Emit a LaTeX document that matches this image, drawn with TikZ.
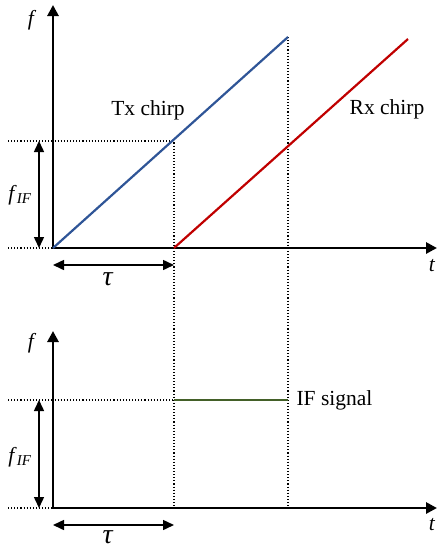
\documentclass[tikz,border=0pt]{standalone}
\usepackage{fontspec}
\setmainfont{Liberation Serif}
\usepackage{tikz}
\usetikzlibrary{calc,arrows.meta,positioning}
\definecolor{txblue}{RGB}{47,85,151}
\definecolor{rxred}{RGB}{192,0,0}
\definecolor{ifgreen}{RGB}{67,96,40}
\tikzset{
  axis/.style={line width=2.8pt,-{Triangle[length=11pt,width=11pt]}},
  guide/.style={line width=1.1pt,dotted},
  span/.style={line width=1.5pt,{Triangle[length=11pt,width=10pt]}-{Triangle[length=11pt,width=10pt]}},
  lbl/.style={font=\fontsize{21.5}{25}\selectfont},
  big/.style={font=\fontsize{28}{30}\selectfont,inner sep=0pt}
}
\begin{document}
\begin{tikzpicture}[x=1pt,y=-1pt]
\useasboundingbox (0,0) rectangle (437,550);
% top panel
\coordinate (O) at (53,248);
\coordinate (Ytop) at (53,5);
\coordinate (Xend) at (437,248);
\coordinate (Txend) at (288,37);
\coordinate (D) at (174,248);
\coordinate (Rxend) at (408,39);
\coordinate (H) at (174,141);
\coordinate (Hl) at (8,141);
\coordinate (Ol) at (8,248);
\coordinate (Tx) at (288,248);
% bottom panel
\coordinate (P) at (53,508);
\coordinate (Ptop) at (53,331);
\coordinate (Pend) at (437,508);
\coordinate (Pl) at (8,508);
\coordinate (G) at (174,400);
\coordinate (Gl) at (8,400);
\coordinate (Gend) at (288,400);
\coordinate (Db) at (174,508);
\coordinate (Tb) at (288,508);
\draw[guide] (Hl)--(H)--(Db);
\draw[guide] (Ol)--(O);
\draw[guide] (Txend)--(Tb);
\draw[guide] (Gl)--(G);
\draw[guide] (Pl)--(P);
\draw[axis] (O)--(Ytop);
\draw[axis] (O)--(Xend);
\draw[axis] (P)--(Ptop);
\draw[axis] (P)--(Pend);
\draw[txblue,line width=2.2pt] (O)--(Txend);
\draw[rxred,line width=2.2pt] (D)--(Rxend);
\draw[ifgreen,line width=2.4pt] (G)--(Gend);
\draw[span] (39,141)--(39,248);
\draw[span] (53,265)--(174,265);
\draw[span] (39,400)--(39,508);
\draw[span] (53,525)--(174,525);
\node[lbl] at (32,20) {\textit{f}};
\node[lbl] at (432,266) {\textit{t}};
\node[lbl] at (148,110) {Tx chirp};
\node[lbl] at (387,109) {Rx chirp};
\node[lbl] at (20,195) {\textit{f}\textsubscript{\textit{IF}}};
\node[big] at (108,279) {\textit{τ}};
\node[lbl] at (32,343) {\textit{f}};
\node[lbl] at (432,525) {\textit{t}};
\node[lbl,anchor=west] at (293,400) {IF signal};
\node[lbl] at (20,457) {\textit{f}\textsubscript{\textit{IF}}};
\node[big] at (108,537) {\textit{τ}};
\end{tikzpicture}
\end{document}
